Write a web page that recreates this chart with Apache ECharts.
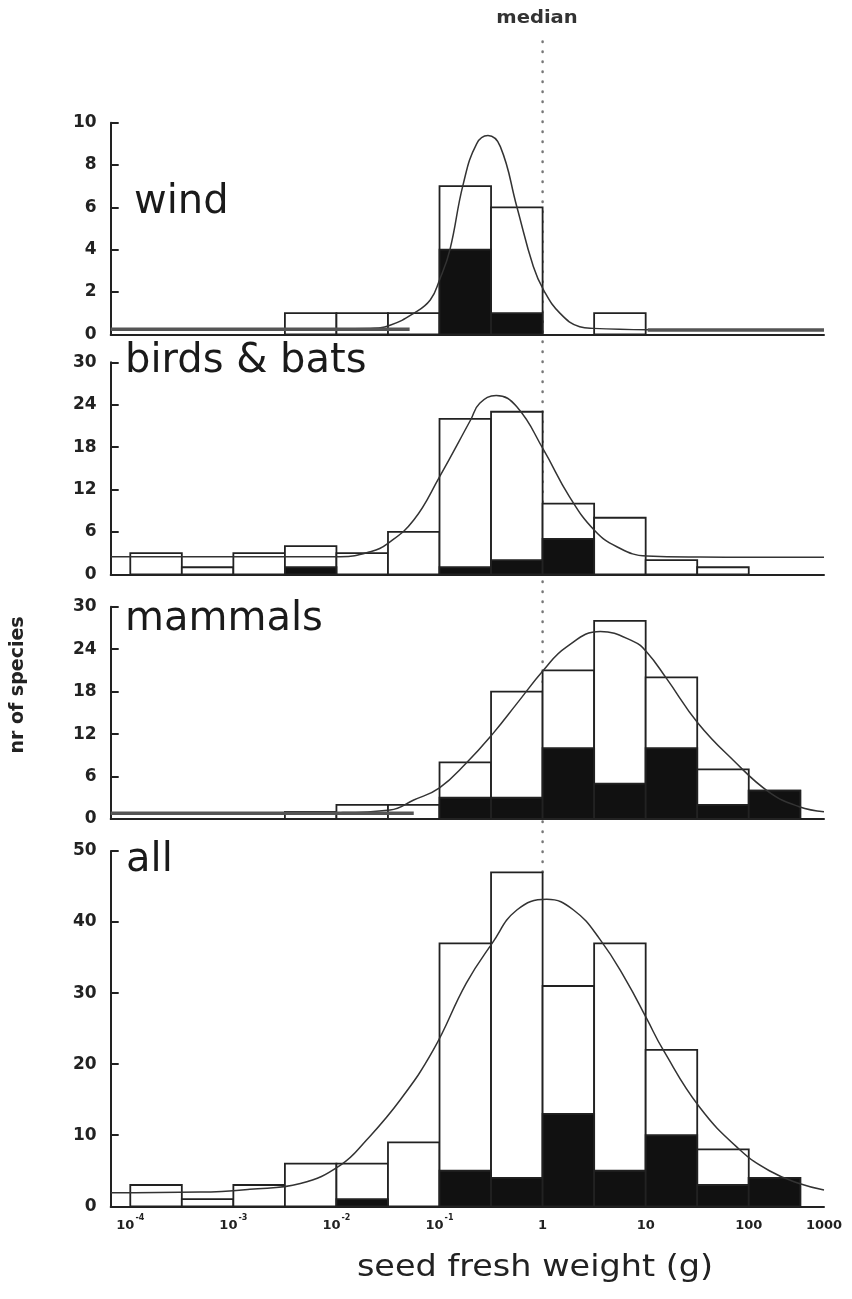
<!DOCTYPE html>
<html><head><meta charset="utf-8">
<script src="https://cdn.jsdelivr.net/npm/echarts@6/dist/echarts.min.js"></script>
<style>html,body{margin:0;padding:0;background:#fff}#c{width:852px;height:1299px}</style>
</head><body><div id="c"></div>
<script>
// ---------- data (x values are log10 of seed fresh weight in g) ----------
const binStartLog = [-4, -3.5, -3, -2.5, -2, -1.5, -1, -0.5, 0, 0.5, 1, 1.5, 2];
const binWidthLog = 0.5;

const windTotal    = [0, 0, 0, 1, 1, 1, 7, 6, 0, 1, 0, 0, 0];
const windBlack    = [0, 0, 0, 0, 0, 0, 4, 1, 0, 0, 0, 0, 0];
const birdsTotal   = [3, 1, 3, 4, 3, 6, 22, 23, 10, 8, 2, 1, 0];
const birdsBlack   = [0, 0, 0, 1, 0, 0, 1, 2, 5, 0, 0, 0, 0];
const mammalsTotal = [0, 0, 0, 1, 2, 2, 8, 18, 21, 28, 20, 7, 4];
const mammalsBlack = [0, 0, 0, 0, 0, 0, 3, 3, 10, 5, 10, 2, 4];
const allTotal     = [3, 1, 3, 6, 6, 9, 37, 47, 31, 37, 22, 8, 4];
const allBlack     = [0, 0, 0, 0, 1, 0, 5, 4, 13, 5, 10, 3, 4];

// fitted curves: [log10 weight, nr of species]
const windCurve = [[-4.19,0.25],[-2.35,0.25],[-1.67,0.28],[-1.48,0.43],[-1.25,0.99],[-1.09,1.62],[-1.00,2.57],[-0.90,3.98],[-0.77,7.1],[-0.64,9.0],[-0.53,9.39],[-0.41,8.87],[-0.25,6.03],[-0.09,3.2],[0.01,2.09],[0.17,0.99],[0.36,0.36],[0.49,0.28],[1.02,0.22],[2.73,0.2]];
const birdsCurve = [[-4.19,2.49],[-1.96,2.5],[-1.67,3.2],[-1.50,4.39],[-1.25,7.68],[-1.00,13.8],[-0.70,21.8],[-0.61,24.2],[-0.45,25.3],[-0.25,23.7],[0.01,17.6],[0.26,11.0],[0.50,6.27],[0.72,3.9],[1.01,2.59],[1.52,2.45],[2.73,2.4]];
const mammalsCurve = [[-4.19,0.85],[-1.96,0.9],[-1.48,1.27],[-1.25,2.68],[-1.00,4.4],[-0.74,7.9],[-0.48,12.1],[-0.25,16.3],[0.01,21.05],[0.23,24.3],[0.56,26.5],[0.88,25.1],[1.01,23.6],[1.20,19.9],[1.51,13.5],[1.85,8.3],[2.20,3.77],[2.49,1.74],[2.73,1.03]];
const allCurve = [[-4.19,1.9],[-3.32,2.0],[-2.84,2.4],[-2.35,3.2],[-1.96,5.8],[-1.71,9.3],[-1.38,15],[-1.06,22],[-0.74,31.4],[-0.49,37.0],[-0.25,41.7],[0.04,43.2],[0.30,41.7],[0.56,37.5],[0.81,31.8],[1.01,26.4],[1.17,22],[1.52,14],[1.91,8],[2.20,5],[2.49,3.2],[2.73,2.3]];

// heavy grey tail strokes seen in the picture
const windTailLeft  = [[-4.19,0.24],[-1.29,0.24]];
const windTailRight = [[1.02,0.2],[2.73,0.2]];
const mammalsTail   = [[-4.19,0.8],[-1.25,0.8]];

const medianLog = 0;

const xTickLog  = [-4, -3, -2, -1, 0, 1, 2, 3];
const xTickBase = ['10', '10', '10', '10', '1', '10', '100', '1000'];
const xTickExp  = ['-4', '-3', '-2', '-1', '', '', '', ''];

const panelNames = ['wind', 'birds & bats', 'mammals', 'all'];
const panelYMax  = [10, 30, 30, 50];
const panelYStep = [2, 6, 6, 10];

// ---------- chart ----------
const X_MIN = -4.19, X_MAX = 2.73;
const FONT = '"DejaVu Sans", "Liberation Sans", sans-serif';
const INK = '#222';

const totals = [windTotal, birdsTotal, mammalsTotal, allTotal];
const blacks = [windBlack, birdsBlack, mammalsBlack, allBlack];
const curves = [windCurve, birdsCurve, mammalsCurve, allCurve];
const tails  = [[windTailLeft, windTailRight], [], [mammalsTail], []];

const gridBox = [
  {top: 122.7, height: 211.6},
  {top: 362.3, height: 212},
  {top: 606.7, height: 212.3},
  {top: 851,   height: 355.3}
];
const labelPos = [[134, 203], [125, 362], [125, 620], [126, 861]];

const grids = [], xAxes = [], yAxes = [], series = [];

function binRows(vals) {
  return binStartLog.map((s, i) => [s, s + binWidthLog, vals[i]]);
}
function barSeries(idx, vals, fill, z) {
  return {
    type: 'custom', xAxisIndex: idx, yAxisIndex: idx, silent: true, z: z,
    encode: {x: [0, 1], y: 2},
    data: binRows(vals),
    renderItem: function (params, api) {
      const v = api.value(2);
      if (!v) return null;
      const a = api.coord([api.value(0), 0]);
      const b = api.coord([api.value(1), v]);
      return {
        type: 'rect',
        shape: {x: a[0], y: b[1], width: b[0] - a[0], height: a[1] - b[1]},
        style: {fill: fill, stroke: INK, lineWidth: 1.8}
      };
    }
  };
}

for (let i = 0; i < 4; i++) {
  grids.push({left: 110.7, width: 713.3, top: gridBox[i].top, height: gridBox[i].height});
  const isLast = i === 3;
  xAxes.push({
    type: 'value', gridIndex: i, min: X_MIN, max: X_MAX,
    axisLine: {show: true, onZero: false, lineStyle: {color: INK, width: 2}},
    axisTick: {show: false},
    splitLine: {show: false},
    axisLabel: isLast ? {
      show: true,
      customValues: xTickLog.map(v => Math.min(v, X_MAX)),
      margin: 8,
      formatter: function (val) {
        let k = xTickLog.findIndex(v => Math.abs(Math.min(v, X_MAX) - val) < 1e-6);
        if (k < 0) return '';
        return xTickExp[k] ? '{b|' + xTickBase[k] + '}{s|' + xTickExp[k] + '}' : '{b|' + xTickBase[k] + '}';
      },
      rich: {
        b: {fontFamily: FONT, fontSize: 13, fontWeight: 'bold', color: INK, lineHeight: 18, verticalAlign: 'bottom'},
        s: {fontFamily: FONT, fontSize: 8, fontWeight: 'bold', color: INK, lineHeight: 18, verticalAlign: 'top', padding: [0, 0, 6, 1]}
      }
    } : {show: false}
  });
  yAxes.push({
    type: 'value', gridIndex: i, min: 0, max: panelYMax[i], interval: panelYStep[i],
    axisLine: {show: true, onZero: false, lineStyle: {color: INK, width: 2}},
    axisTick: {show: true, inside: true, length: 8, lineStyle: {color: INK, width: 2}},
    splitLine: {show: false},
    axisLabel: {margin: 14, fontFamily: FONT, fontSize: 17, fontWeight: 'bold', color: INK}
  });
  series.push(barSeries(i, totals[i], '#fff', 2));
  series.push(barSeries(i, blacks[i], '#111', 3));
  series.push({
    type: 'line', xAxisIndex: i, yAxisIndex: i, data: curves[i], silent: true, z: 4,
    smooth: 0.45, showSymbol: false, symbol: 'none',
    lineStyle: {color: '#333', width: 1.5}
  });
  tails[i].forEach(t => series.push({
    type: 'line', xAxisIndex: i, yAxisIndex: i, data: t, silent: true, z: 5,
    showSymbol: false, symbol: 'none', lineStyle: {color: '#555', width: 3.5}
  }));
}

// overlay grid for the median line
grids.push({left: 110.7, width: 713.3, top: 40, height: 832});
xAxes.push({type: 'value', gridIndex: 4, min: X_MIN, max: X_MAX, show: false});
yAxes.push({type: 'value', gridIndex: 4, min: 0, max: 1, show: false});
series.push({
  type: 'line', xAxisIndex: 4, yAxisIndex: 4, data: [[medianLog, 0], [medianLog, 1]],
  silent: true, z: 1, showSymbol: false, symbol: 'none',
  lineStyle: {color: '#777', width: 2.5, type: [0.5, 9.5], cap: 'round'}
});

const graphic = [
  {type: 'text', x: 537, y: 19, scaleX: 1.15,
   style: {text: 'median', font: 'bold 17px ' + FONT, fill: '#333', align: 'center', verticalAlign: 'middle'}},
  {type: 'text', x: 18, y: 685, rotation: Math.PI / 2,
   style: {text: 'nr of species', font: 'bold 19px ' + FONT, fill: INK, align: 'center', verticalAlign: 'middle'}},
  {type: 'text', x: 535, y: 1268, scaleX: 1.08,
   style: {text: 'seed fresh weight (g)', font: '500 31px ' + FONT, fill: INK, align: 'center', verticalAlign: 'middle'}}
];
panelNames.forEach((n, i) => graphic.push({
  type: 'text', x: labelPos[i][0], y: labelPos[i][1],
  style: {text: n, font: '40px ' + FONT, fill: '#1a1a1a', align: 'left', verticalAlign: 'middle'}
}));

const chart = echarts.init(document.getElementById('c'), null, {renderer: 'canvas'});
chart.setOption({
  backgroundColor: '#fff',
  animation: false,
  grid: grids, xAxis: xAxes, yAxis: yAxes, series: series, graphic: graphic
});
</script></body></html>
